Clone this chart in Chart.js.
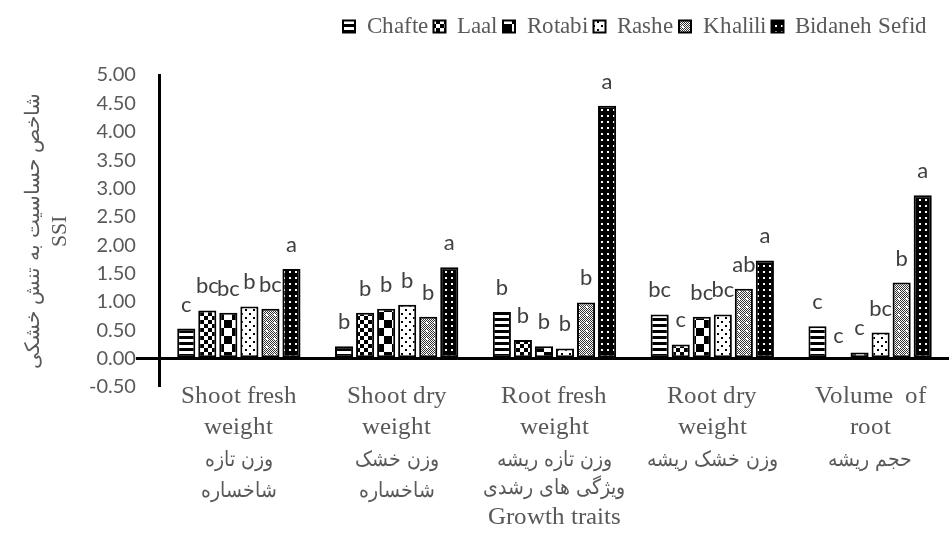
<!DOCTYPE html>
<html dir="ltr"><head><meta charset="utf-8">
<script src="https://cdn.jsdelivr.net/npm/chart.js@4.4.1/dist/chart.umd.min.js"></script>
<style>
html,body{margin:0;padding:0;background:#fff;}canvas{display:block}
@font-face { font-family: 'XSerif'; src: local('Liberation Serif'), local('LiberationSerif'); unicode-range: U+0000-05FF, U+0700-FB4F; }
@font-face { font-family: 'XSerif'; src: local('DejaVu Sans Condensed'), local('DejaVuSansCondensed'), local('DejaVu Sans'), local('DejaVuSans'); unicode-range: U+0600-06FF, U+FB50-FDFF, U+FE70-FEFF, U+200C-200D; size-adjust: 84%; }
@font-face { font-family: 'XSerifB'; src: local('Liberation Serif'), local('LiberationSerif'); unicode-range: U+0000-05FF, U+0700-FB4F; }
@font-face { font-family: 'XSerifB'; src: local('DejaVu Sans'), local('DejaVuSans'); unicode-range: U+0600-06FF, U+FB50-FDFF, U+FE70-FEFF, U+200C-200D; size-adjust: 92%; }
</style>
</head><body>
<canvas id="c" width="949" height="537"></canvas>
<script>
// ---- data ----
const categories = [
  ['Shoot fresh', 'weight', 'وزن تازه', 'شاخساره'],
  ['Shoot dry', 'weight', 'وزن خشک', 'شاخساره'],
  ['Root fresh', 'weight', 'وزن تازه ریشه'],
  ['Root dry', 'weight', 'وزن خشک ریشه'],
  ['Volume  of', 'root', 'حجم ریشه']
];
const seriesNames = ['Chafte', 'Laal', 'Rotabi', 'Rashe', 'Khalili', 'Bidaneh Sefid'];
const chafte  = [0.53, 0.22, 0.82, 0.78, 0.57];
const laal    = [0.85, 0.81, 0.33, 0.25, -0.03];
const rotabi  = [0.81, 0.88, 0.22, 0.74, 0.11];
const rashe   = [0.92, 0.95, 0.18, 0.78, 0.46];
const khalili = [0.88, 0.74, 0.99, 1.23, 1.34];
const bidaneh = [1.58, 1.61, 4.46, 1.73, 2.88];
const chafteLetters  = ['c', 'b', 'b', 'bc', 'c'];
const laalLetters    = ['bc', 'b', 'b', 'c', 'c'];
const rotabiLetters  = ['bc', 'b', 'b', 'bc', 'c'];
const rasheLetters   = ['b', 'b', 'b', 'bc', 'bc'];
const khaliliLetters = ['bc', 'b', 'b', 'ab', 'b'];
const bidanehLetters = ['a', 'a', 'a', 'a', 'a'];
const yTicksMin = -0.5, yTicksMax = 5, yStep = 0.5;
const yTitle = ['شاخص حساسیت به تنش خشکی', 'SSI'];
const xTitle = ['ویژگی های رشدی', 'Growth traits'];

// ---- patterns ----
function makePattern(size, draw) {
  const c = document.createElement('canvas');
  c.width = c.height = size;
  const g = c.getContext('2d');
  draw(g, size);
  return g.createPattern(c, 'repeat');
}
const pStripes = makePattern(6, (g) => { g.fillStyle = '#fff'; g.fillRect(0,0,6,6); g.fillStyle = '#000'; g.fillRect(0,0,6,3); });
const pChecker = makePattern(8, (g) => { g.fillStyle = '#fff'; g.fillRect(0,0,8,8); g.fillStyle = '#000'; g.fillRect(0,0,4,4); g.fillRect(4,4,4,4); });
const pBigChecker = makePattern(16, (g) => { g.fillStyle = '#fff'; g.fillRect(0,0,16,16); g.fillStyle = '#000'; g.fillRect(0,0,8,8); g.fillRect(8,8,8,8); });
const pDots = makePattern(8, (g) => { g.fillStyle = '#fff'; g.fillRect(0,0,8,8); g.fillStyle = '#000'; g.fillRect(1,1,2,2); g.fillRect(5,5,2,2); });
const pGrey = makePattern(8, (g) => {
  g.fillStyle = '#fff'; g.fillRect(0,0,8,8); g.fillStyle = '#333';
  for (let y = 0; y < 8; y++) for (let x = 0; x < 8; x++) if ((x + y) % 2 === 0) g.fillRect(x, y, 1, 1);
  g.fillStyle = '#fff'; g.fillRect(2,2,2,2);
});
const pDarkDots = makePattern(6, (g) => { g.fillStyle = '#000'; g.fillRect(0,0,6,6); g.fillStyle = '#fff'; g.fillRect(1,1,2,2); });

const seriesValues = [chafte, laal, rotabi, rashe, khalili, bidaneh];
const seriesLetters = [chafteLetters, laalLetters, rotabiLetters, rasheLetters, khaliliLetters, bidanehLetters];
const seriesFills = [pStripes, pChecker, pBigChecker, pDots, pGrey, pDarkDots];

const datasets = seriesNames.map((name, i) => ({
  label: name,
  data: seriesValues[i],
  letters: seriesLetters[i],
  backgroundColor: seriesFills[i],
  borderColor: '#000',
  borderWidth: 2,
  borderSkipped: false,
  categoryPercentage: 0.8,
  barPercentage: 0.86
}));

const letterPlugin = {
  id: 'letters',
  afterDatasetsDraw(chart) {
    const ctx = chart.ctx;
    ctx.save();
    ctx.font = '22px Lato';
    ctx.fillStyle = '#404040';
    ctx.textAlign = 'center';
    ctx.textBaseline = 'alphabetic';
    chart.data.datasets.forEach((ds, di) => {
      const meta = chart.getDatasetMeta(di);
      meta.data.forEach((el, j) => {
        const top = Math.min(el.y, el.base);
        ctx.fillText(ds.letters[j], el.x, top - 17);
      });
    });
    ctx.restore();
  }
};

// space under the legend, a small shift of the legend row, and no clipping of the category labels
const layoutTweaks = {
  id: 'layoutTweaks',
  beforeInit(chart) {
    const fit = chart.legend.fit;
    chart.legend.fit = function () { fit.call(this); this.height += 27; };
  },
  afterLayout(chart) { chart.legend.right -= 16; },
  beforeDraw(chart) { chart.scales.x._computeLabelArea = () => undefined; }
};

const serif = "XSerif, 'Liberation Serif', 'DejaVu Sans'";
const serifB = "XSerifB, 'Liberation Serif', 'DejaVu Sans'";

function build() {
  new Chart(document.getElementById('c'), {
    type: 'bar',
    data: { labels: categories, datasets },
    plugins: [letterPlugin, layoutTweaks],
    options: {
      responsive: false,
      animation: false,
      layout: { padding: { left: 19, right: 0, top: 9, bottom: 0 } },
      plugins: {
        legend: {
          position: 'top', align: 'end',
          labels: { boxWidth: 12, boxHeight: 12, padding: 6, color: '#595959', font: { family: serif, size: 23 } }
        },
        tooltip: { enabled: false }
      },
      scales: {
        x: {
          grid: { display: false },
          border: { display: false },
          ticks: { color: '#595959', font: { family: serif, size: 25, lineHeight: 1.25 }, padding: -14, maxRotation: 0, autoSkip: false },
          title: { display: true, text: xTitle, color: '#595959', font: { family: serif, size: 25, lineHeight: 1.2 }, padding: { top: -20, bottom: 5 } }
        },
        y: {
          min: yTicksMin, max: yTicksMax,
          ticks: { stepSize: yStep, callback: (v) => Number(v).toFixed(2), color: '#595959', font: { family: 'Lato', size: 20 }, padding: 0 },
          grid: {
            color: (c) => (c.tick && Math.abs(c.tick.value) < 1e-9) ? '#000' : 'rgba(0,0,0,0)',
            lineWidth: (c) => (c.tick && Math.abs(c.tick.value) < 1e-9) ? 3 : 0,
            tickLength: 24
          },
          border: { display: true, color: '#000', width: 3 },
          title: { display: true, text: yTitle, color: '#595959', font: { family: serifB, size: 22, lineHeight: 1.25 }, padding: { top: 0, bottom: 15 } }
        }
      }
    }
  });
}

const fontLoads = [
  document.fonts.load("25px XSerif", "Abc وزن"),
  document.fonts.load("22px XSerifB", "Abc وزن"),
  document.fonts.load("20px Lato", "0.5"),
  document.fonts.load("23px 'Liberation Serif'", "Abc")
];
Promise.all(fontLoads).then(build, build);
</script>
</body></html>
